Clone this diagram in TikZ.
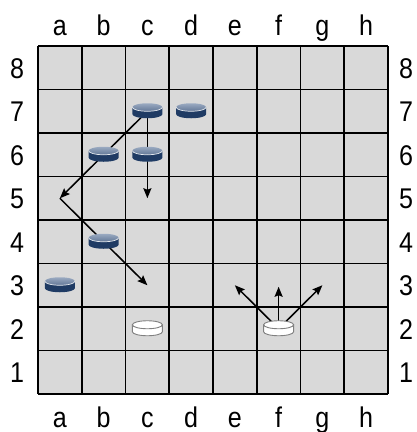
\documentclass[tikz,border=0pt]{standalone}
\usepackage{fontspec}
\setmainfont{Liberation Sans}[FakeStretch=0.88]
\usetikzlibrary{arrows.meta}
\definecolor{boardfill}{HTML}{D9D9D9}
\definecolor{navy}{HTML}{1F3B64}
\definecolor{toplight}{HTML}{9AAAC1}
\definecolor{topdark}{HTML}{627797}
\definecolor{rimgray}{HTML}{808080}
\newcommand\darkpiece[1]{%
  \begin{scope}[shift={(#1)}]
    \fill[navy] (-15,-4) -- (-15,3) arc[start angle=180,end angle=0,x radius=15,y radius=4] -- (15,-4) -- cycle;
    \shade[top color=toplight,bottom color=topdark] (0,-4) ellipse [x radius=15,y radius=4];
    \draw[white!75!toplight,line width=0.7pt] (-15,-4) arc[start angle=180,end angle=0,x radius=15,y radius=4];
  \end{scope}}
\newcommand\lightpiece[1]{%
  \begin{scope}[shift={(#1)}]
    \filldraw[fill=white,draw=rimgray,line width=0.9pt] (-15,-4) -- (-15,3) arc[start angle=180,end angle=0,x radius=15,y radius=4] -- (15,-4) -- cycle;
    \filldraw[fill=white,draw=rimgray,line width=0.9pt] (0,-4) ellipse [x radius=15,y radius=4];
  \end{scope}}
\begin{document}
\begin{tikzpicture}[x=1pt,y=-1pt,
  lbl/.style={font=\fontsize{28.5}{30}\selectfont,inner sep=0pt,anchor=base},
  arr/.style={line width=1.5pt,-{Stealth[length=10pt,width=8pt,inset=1.5pt]}},
  grid line/.style={line width=1.8pt}]
\useasboundingbox (0,0) rectangle (416,432);
\fill[white] (0,0) rectangle (416,432);
% board
\fill[boardfill] (38,46) rectangle (388,394);
\foreach \i in {0,...,8} {
  \draw[grid line] ({38+43.75*\i},46) -- ({38+43.75*\i},394);
  \draw[grid line] (38,{46+43.5*\i}) -- (388,{46+43.5*\i});
}
% square centres and labels
\foreach \f [count=\i from 0] in {a,b,c,d,e,f,g,h} {
  \foreach \r in {1,...,8} {
    \coordinate (\f\r) at ({38+43.75*(\i+0.5)},{394-43.5*(\r-0.5)});
  }
  \node[lbl] (top\f) at ({38+43.75*(\i+0.5)},35) {\f};
  \node[lbl] (bot\f) at ({38+43.75*(\i+0.5)},427) {\f};
}
\foreach \r in {1,...,8} {
  \node[lbl] (left\r) at (17,{394-43.5*(\r-0.5)+10.5}) {\r};
  \node[lbl] (right\r) at (406,{394-43.5*(\r-0.5)+10.5}) {\r};
}
% arrows
\draw[arr] (c7) -- (a5);
\draw[arr] (a5) -- (c3);
\draw[arr] (c7) -- (c5);
\draw[arr] (f2) -- (e3);
\draw[arr,shorten >=1.5pt] (f2) -- (f3);
\draw[arr] (f2) -- (g3);
% pieces
\darkpiece{c7}
\darkpiece{d7}
\darkpiece{b6}
\darkpiece{c6}
\darkpiece{b4}
\darkpiece{a3}
\lightpiece{c2}
\lightpiece{f2}
\end{tikzpicture}
\end{document}
